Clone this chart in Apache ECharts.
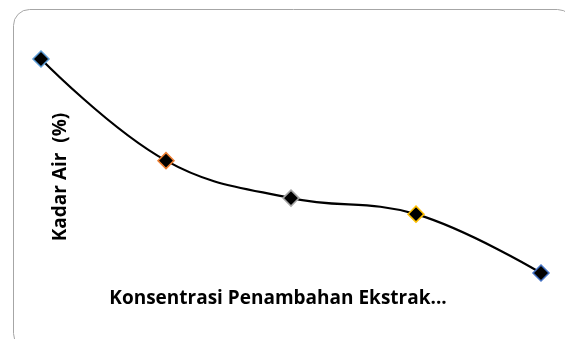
<!DOCTYPE html>
<html><head><meta charset="utf-8">
<script src="https://cdn.jsdelivr.net/npm/echarts@6/dist/echarts.min.js"></script>
<style>html,body{margin:0;padding:0;background:#fff}#c{width:565px;height:339px}</style>
</head><body><div id="c"></div>
<script>
var categories = ["K1", "K2", "K3", "K4", "K5"];
var kadarAir = [12.0, 10.1, 9.4, 9.1, 8.0];
var markerColors = ["#5B9BD5", "#ED7D31", "#A5A5A5", "#FFC000", "#4472C4"];
var xTitle = "Konsentrasi Penambahan Ekstrak...";
var yTitle = "Kadar Air  (%)";

var chart = echarts.init(document.getElementById('c'), null, {renderer: 'canvas'});
var font = '"Open Sans", sans-serif';
chart.setOption({
  animation: false,
  grid: {left: 41, right: 24, top: 5.5, bottom: 12.5},
  xAxis: {type: 'category', data: categories, boundaryGap: false, show: false},
  yAxis: {type: 'value', min: 7, max: 13, show: false},
  series: [{
    type: 'line',
    data: kadarAir.map(function(v, i){ return {value: v, itemStyle: {borderColor: markerColors[i]}}; }),
    smooth: 0.4,
    symbol: 'diamond',
    symbolSize: 16,
    lineStyle: {color: '#000', width: 2.2},
    itemStyle: {color: '#000', borderWidth: 1.5},
    z: 3
  }],
  graphic: [
    {type: 'rect', shape: {x: 13.5, y: 9.5, width: 560, height: 340, r: 16}, style: {fill: 'none', stroke: '#a6a6a6', lineWidth: 1}, z: 0},
    {type: 'text', x: 278, y: 299, style: {text: xTitle, font: 'bold 19px ' + font, fill: '#000', textAlign: 'center', textVerticalAlign: 'middle'}, z: 5},
    {type: 'text', x: 61, y: 177, rotation: Math.PI/2, style: {text: yTitle, font: 'bold 19px ' + font, fill: '#000', textAlign: 'center', textVerticalAlign: 'middle'}, z: 5}
  ]
});
</script></body></html>
